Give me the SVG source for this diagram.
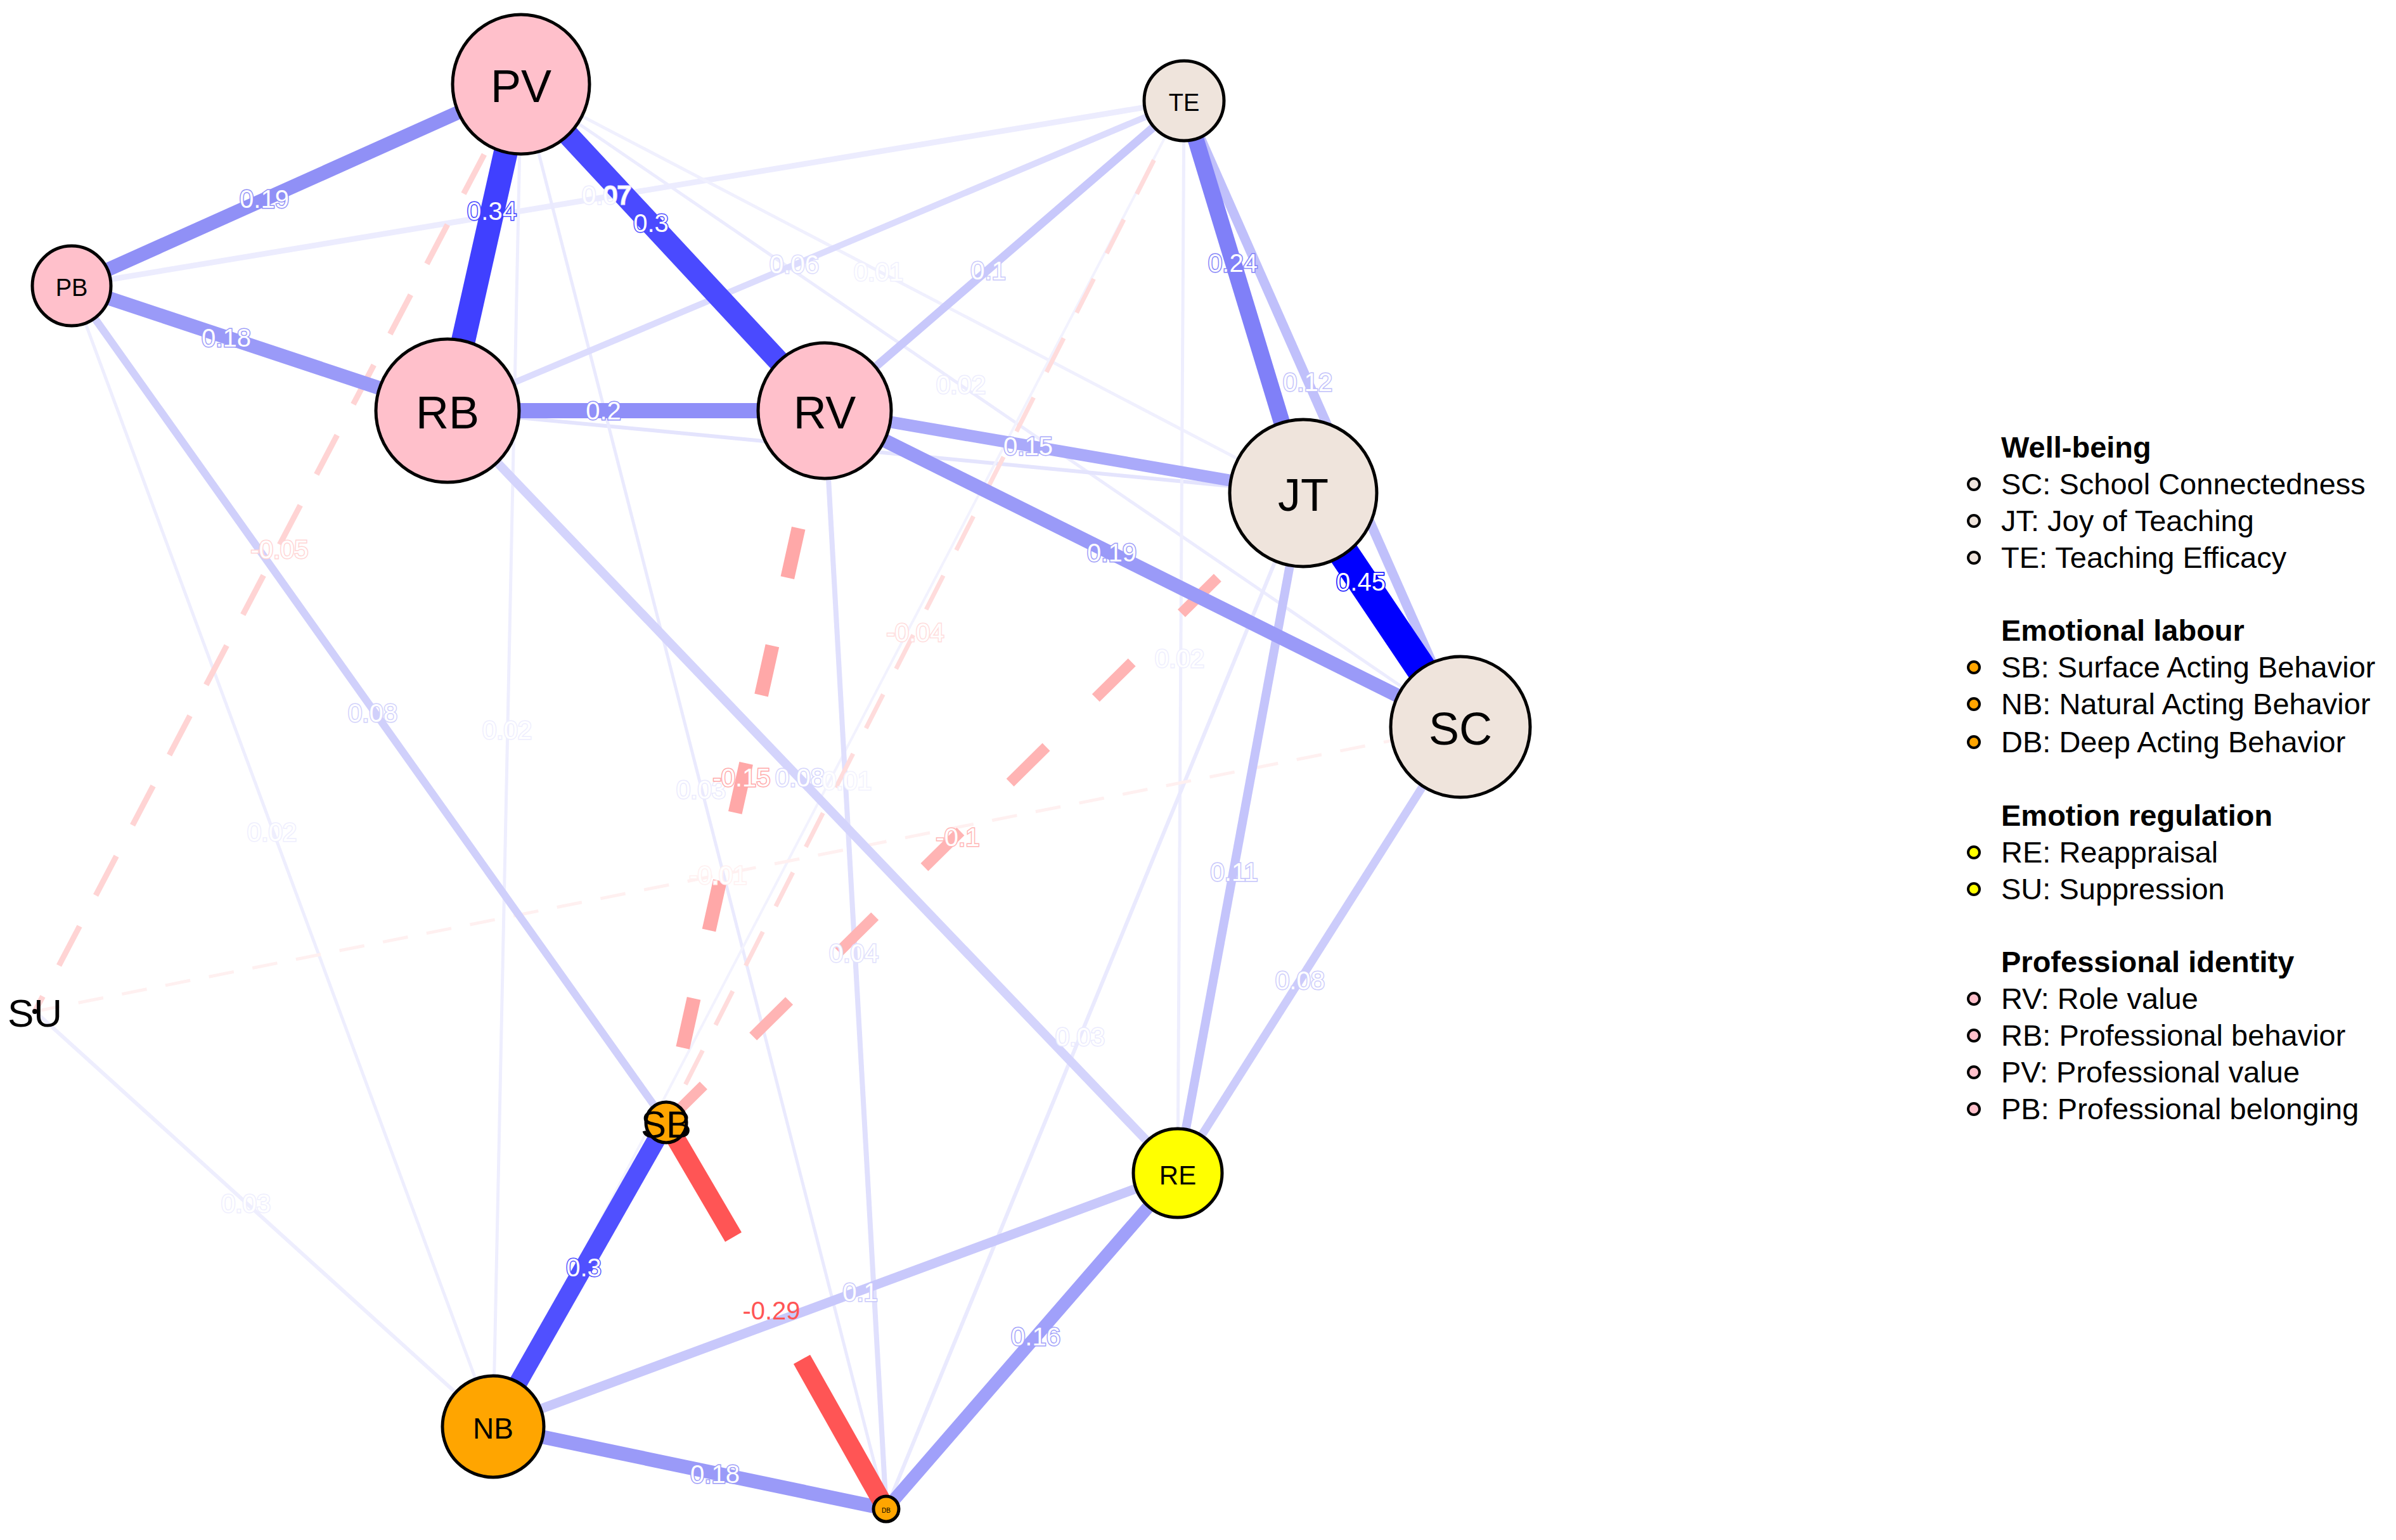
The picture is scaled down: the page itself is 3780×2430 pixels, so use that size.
<svg xmlns="http://www.w3.org/2000/svg" width="3780" height="2430" viewBox="0 0 3780 2430">
<style>
.n{stroke:#000;stroke-width:5}
.nt{font-family:"Liberation Sans",Arial,sans-serif;text-anchor:middle;dominant-baseline:central;fill:#000}
.el{font-family:"Liberation Sans",Arial,sans-serif;font-size:40px;text-anchor:middle;dominant-baseline:central;fill:#fff;stroke-width:3;paint-order:stroke}
.e{fill:none;stroke-linecap:butt}
.lg{font-family:"Liberation Sans",Arial,sans-serif;font-size:47px;fill:#000}
.lh{font-family:"Liberation Sans",Arial,sans-serif;font-size:47px;font-weight:bold;fill:#000}
.ld{stroke:#000;stroke-width:4}
</style>
<rect width="3780" height="2430" fill="#fff"/>
<g id="edges">
<line class="e" x1="113" y1="451" x2="1868" y2="159" stroke="#ececfe" stroke-width="9"/>
<line class="e" x1="822" y1="133" x2="2056" y2="778" stroke="#f0f0fe" stroke-width="5"/>
<line class="e" x1="822" y1="133" x2="2304" y2="1147" stroke="#ececfe" stroke-width="5"/>
<line class="e" x1="706" y1="648" x2="2056" y2="778" stroke="#e4e4fd" stroke-width="6"/>
<line class="e" x1="1868" y1="159" x2="1858" y2="1851" stroke="#eeeefe" stroke-width="5"/>
<line class="e" x1="822" y1="133" x2="778" y2="2251" stroke="#eeeefe" stroke-width="5"/>
<line class="e" x1="822" y1="133" x2="1398" y2="2381" stroke="#eaeafe" stroke-width="5"/>
<line class="e" x1="113" y1="451" x2="778" y2="2251" stroke="#eeeefe" stroke-width="5"/>
<line class="e" x1="1868" y1="159" x2="778" y2="2251" stroke="#f2f2fe" stroke-width="4"/>
<line class="e" x1="2056" y1="778" x2="1398" y2="2381" stroke="#eaeafe" stroke-width="6"/>
<line class="e" x1="55" y1="1596" x2="778" y2="2251" stroke="#eeeefe" stroke-width="6"/>
<line class="e" x1="1301" y1="648" x2="1398" y2="2381" stroke="#e0e0fd" stroke-width="8"/>
<line class="e" x1="55" y1="1596" x2="2304" y2="1147" stroke="#fff0f0" stroke-width="5" stroke-dasharray="40 30"/>
<line class="e" x1="1868" y1="159" x2="1051" y2="1771" stroke="#ffdcdc" stroke-width="7" stroke-dasharray="60 45"/>
<line class="e" x1="822" y1="133" x2="55" y2="1596" stroke="#ffd4d4" stroke-width="9" stroke-dasharray="70 55"/>
<line class="e" x1="1868" y1="159" x2="706" y2="648" stroke="#dcdcfd" stroke-width="10"/>
<line class="e" x1="1868" y1="159" x2="1301" y2="648" stroke="#c8c8fb" stroke-width="13"/>
<line class="e" x1="113" y1="451" x2="1051" y2="1771" stroke="#d0d0fb" stroke-width="12"/>
<line class="e" x1="706" y1="648" x2="1858" y2="1851" stroke="#d4d4fc" stroke-width="14"/>
<line class="e" x1="2056" y1="778" x2="1858" y2="1851" stroke="#c4c4fb" stroke-width="14"/>
<line class="e" x1="2304" y1="1147" x2="1858" y2="1851" stroke="#ccccfb" stroke-width="13"/>
<line class="e" x1="778" y1="2251" x2="1858" y2="1851" stroke="#c8c8fb" stroke-width="15"/>
<line class="e" x1="1868" y1="159" x2="2304" y2="1147" stroke="#c0c0fb" stroke-width="15"/>
<line class="e" x1="1301" y1="648" x2="1051" y2="1771" stroke="#ffa8a8" stroke-width="22" stroke-dasharray="80 110" stroke-linecap="round"/>
<line class="e" x1="2056" y1="778" x2="1051" y2="1771" stroke="#ffb4b4" stroke-width="17" stroke-dasharray="80 110" stroke-linecap="round"/>
<line class="e" x1="822" y1="133" x2="113" y2="451" stroke="#9090f6" stroke-width="22"/>
<line class="e" x1="113" y1="451" x2="706" y2="648" stroke="#9a9af8" stroke-width="22"/>
<line class="e" x1="706" y1="648" x2="1301" y2="648" stroke="#8f8ff8" stroke-width="24"/>
<line class="e" x1="1301" y1="648" x2="2056" y2="778" stroke="#aaaafa" stroke-width="19"/>
<line class="e" x1="1301" y1="648" x2="2304" y2="1147" stroke="#9a9af8" stroke-width="22"/>
<line class="e" x1="1868" y1="159" x2="2056" y2="778" stroke="#8080f8" stroke-width="26"/>
<line class="e" x1="2056" y1="778" x2="2304" y2="1147" stroke="#0000ff" stroke-width="48"/>
<line class="e" x1="822" y1="133" x2="706" y2="648" stroke="#4040ff" stroke-width="38"/>
<line class="e" x1="822" y1="133" x2="1301" y2="648" stroke="#4a4aff" stroke-width="34"/>
<line class="e" x1="778" y1="2251" x2="1398" y2="2381" stroke="#9a9af8" stroke-width="22"/>
<line class="e" x1="1858" y1="1851" x2="1398" y2="2381" stroke="#a0a0fa" stroke-width="20"/>
<line class="e" x1="1051" y1="1771" x2="1157" y2="1952" stroke="#ff5555" stroke-width="30" stroke-linecap="round"/>
<line class="e" x1="1265" y1="2145" x2="1398" y2="2381" stroke="#ff5555" stroke-width="30" stroke-linecap="round"/>
<line class="e" x1="778" y1="2251" x2="1051" y2="1771" stroke="#5050ff" stroke-width="29"/>
<text class="el" x="417" y="314" stroke="#9090f6">0.19</text>
<text class="el" x="776" y="333" stroke="#4040ff">0.34</text>
<text class="el" x="957" y="308" stroke="#ececfe">0.07</text>
<text class="el" x="1027" y="352" stroke="#4a4aff">0.3</text>
<text class="el" x="1253" y="417" stroke="#dcdcfd">0.06</text>
<text class="el" x="1386" y="429" stroke="#f0f0fe">0.01</text>
<text class="el" x="1559" y="427" stroke="#c8c8fb">0.1</text>
<text class="el" x="1945" y="415" stroke="#8080f8">0.24</text>
<text class="el" x="357" y="533" stroke="#9a9af8">0.18</text>
<text class="el" x="1516" y="607" stroke="#ececfe">0.02</text>
<text class="el" x="2063" y="603" stroke="#c0c0fb">0.12</text>
<text class="el" x="952" y="648" stroke="#8f8ff8">0.2</text>
<text class="el" x="1622" y="704" stroke="#aaaafa">0.15</text>
<text class="el" x="2147" y="918" stroke="#0000ff">0.45</text>
<text class="el" x="1754" y="872" stroke="#9a9af8">0.19</text>
<text class="el" x="441" y="867" stroke="#ffd4d4">-0.05</text>
<text class="el" x="1444" y="998" stroke="#ffdcdc">-0.04</text>
<text class="el" x="1861" y="1039" stroke="#eeeefe">0.02</text>
<text class="el" x="588" y="1125" stroke="#d0d0fb">0.08</text>
<text class="el" x="800" y="1152" stroke="#eeeefe">0.02</text>
<text class="el" x="1106" y="1246" stroke="#eaeafe">0.03</text>
<text class="el" x="1170" y="1227" stroke="#ffa8a8">-0.15</text>
<text class="el" x="1262" y="1227" stroke="#d4d4fc">0.08</text>
<text class="el" x="1336" y="1232" stroke="#f2f2fe">0.01</text>
<text class="el" x="429" y="1313" stroke="#eeeefe">0.02</text>
<text class="el" x="1511" y="1321" stroke="#ffb4b4">-0.1</text>
<text class="el" x="1133" y="1381" stroke="#fff0f0">-0.01</text>
<text class="el" x="1947" y="1376" stroke="#c4c4fb">0.11</text>
<text class="el" x="1347" y="1504" stroke="#e0e0fd">0.04</text>
<text class="el" x="2051" y="1547" stroke="#ccccfb">0.08</text>
<text class="el" x="1704" y="1636" stroke="#eaeafe">0.03</text>
<text class="el" x="388" y="1899" stroke="#eeeefe">0.03</text>
<text class="el" x="921" y="2000" stroke="#5050ff">0.3</text>
<text class="el" x="1217" y="2068" style="fill:#ff5555;stroke:none">-0.29</text>
<text class="el" x="1357" y="2039" stroke="#c8c8fb">0.1</text>
<text class="el" x="1634" y="2109" stroke="#a0a0fa">0.16</text>
<text class="el" x="1128" y="2326" stroke="#9a9af8">0.18</text>
</g>
<g id="PV"><ellipse class="n" cx="822" cy="133" rx="108" ry="110" fill="#ffc0cb"/><text class="nt" x="822" y="136" font-size="72">PV</text></g>
<g id="TE"><ellipse class="n" cx="1868" cy="159" rx="63" ry="63" fill="#efe4dc"/><text class="nt" x="1868" y="162" font-size="38">TE</text></g>
<g id="PB"><ellipse class="n" cx="113" cy="451" rx="62" ry="63" fill="#ffc0cb"/><text class="nt" x="113" y="454" font-size="38">PB</text></g>
<g id="RB"><ellipse class="n" cx="706" cy="648" rx="113" ry="113" fill="#ffc0cb"/><text class="nt" x="706" y="651" font-size="72">RB</text></g>
<g id="RV"><ellipse class="n" cx="1301" cy="648" rx="105" ry="107" fill="#ffc0cb"/><text class="nt" x="1301" y="651" font-size="72">RV</text></g>
<g id="JT"><ellipse class="n" cx="2056" cy="778" rx="116" ry="116" fill="#efe4dc"/><text class="nt" x="2056" y="781" font-size="72">JT</text></g>
<g id="SC"><ellipse class="n" cx="2304" cy="1147" rx="110" ry="111" fill="#efe4dc"/><text class="nt" x="2304" y="1150" font-size="72">SC</text></g>
<g id="SU"><circle cx="55" cy="1596" r="4" fill="#000"/><text class="nt" x="55" y="1598" font-size="62">SU</text></g>
<g id="SB"><circle class="n" cx="1051" cy="1771" r="32" fill="#ffa500"/><text class="nt" x="1051" y="1774" font-size="60">SB</text></g>
<g id="RE"><ellipse class="n" cx="1858" cy="1851" rx="70" ry="70" fill="#ffff00"/><text class="nt" x="1858" y="1854" font-size="42">RE</text></g>
<g id="NB"><ellipse class="n" cx="778" cy="2251" rx="80" ry="80" fill="#ffa500"/><text class="nt" x="778" y="2254" font-size="46">NB</text></g>
<g id="DB"><circle class="n" cx="1398" cy="2381" r="20" fill="#ffa500"/><text class="nt" x="1398" y="2383" font-size="10">DB</text></g>
<g id="legend">
<text class="lh" x="3157" y="722">Well-being</text>
<circle class="ld" cx="3114" cy="764" r="9" fill="#efe4dc"/><text class="lg" x="3157" y="780">SC: School Connectedness</text>
<circle class="ld" cx="3114" cy="822" r="9" fill="#efe4dc"/><text class="lg" x="3157" y="838">JT: Joy of Teaching</text>
<circle class="ld" cx="3114" cy="880" r="9" fill="#efe4dc"/><text class="lg" x="3157" y="896">TE: Teaching Efficacy</text>
<text class="lh" x="3157" y="1011">Emotional labour</text>
<circle class="ld" cx="3114" cy="1053" r="9" fill="#ffa500"/><text class="lg" x="3157" y="1069">SB: Surface Acting Behavior</text>
<circle class="ld" cx="3114" cy="1111" r="9" fill="#ffa500"/><text class="lg" x="3157" y="1127">NB: Natural Acting Behavior</text>
<circle class="ld" cx="3114" cy="1171" r="9" fill="#ffa500"/><text class="lg" x="3157" y="1187">DB: Deep Acting Behavior</text>
<text class="lh" x="3157" y="1303">Emotion regulation</text>
<circle class="ld" cx="3114" cy="1345" r="9" fill="#ffff00"/><text class="lg" x="3157" y="1361">RE: Reappraisal</text>
<circle class="ld" cx="3114" cy="1403" r="9" fill="#ffff00"/><text class="lg" x="3157" y="1419">SU: Suppression</text>
<text class="lh" x="3157" y="1534">Professional identity</text>
<circle class="ld" cx="3114" cy="1576" r="9" fill="#ffc0cb"/><text class="lg" x="3157" y="1592">RV: Role value</text>
<circle class="ld" cx="3114" cy="1634" r="9" fill="#ffc0cb"/><text class="lg" x="3157" y="1650">RB: Professional behavior</text>
<circle class="ld" cx="3114" cy="1692" r="9" fill="#ffc0cb"/><text class="lg" x="3157" y="1708">PV: Professional value</text>
<circle class="ld" cx="3114" cy="1750" r="9" fill="#ffc0cb"/><text class="lg" x="3157" y="1766">PB: Professional belonging</text>
</g>
</svg>
